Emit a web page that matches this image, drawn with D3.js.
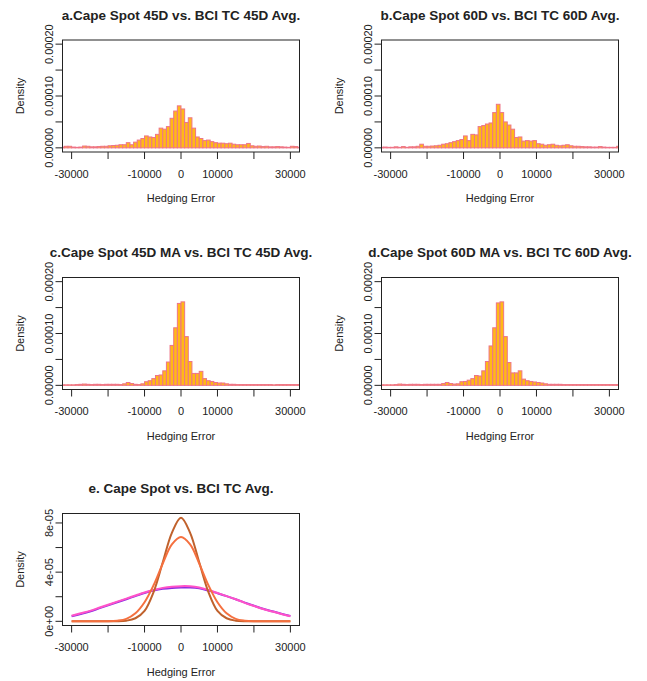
<!DOCTYPE html>
<html>
<head>
<meta charset="utf-8">
<script src="https://cdn.jsdelivr.net/npm/d3@7"></script>
<style>
  body { margin: 0; background: #fff; }
  text { font-family: "Liberation Sans", Arial, sans-serif; fill: #222; }
</style>
</head>
<body>
<svg id="chart"></svg>
<script>
// Histogram bins: left edges start at -33000, each 1000 wide
var binStart = -33000;
var binWidth = 1000;

// Density per bin, in units of 1e-5
var densA = [0.15, 0.3, 0.3, 0.15, 0.1, 0.15, 0.35, 0.3, 0.2, 0.2,
  0.25, 0.3, 0.3, 0.4, 0.45, 0.5, 0.6, 0.6, 1.0, 0.6,
  1.1, 1.5, 1.8, 2.3, 2.1, 2.0, 2.6, 3.8, 3.6, 4.1,
  5.7, 7.1, 8.1, 7.5, 4.9, 5.8, 3.8, 2.1, 1.8, 1.4,
  1.5, 1.2, 1.0, 0.9, 0.9, 0.8, 0.9, 0.7, 0.6, 0.6,
  0.6, 0.85, 0.4, 0.3, 0.35, 0.25, 0.3, 0.2, 0.2, 0.25,
  0.2, 0.15, 0.1, 0.3, 0.25, 0.1];

var densB = [0.1, 0.15, 0.1, 0.1, 0.2, 0.1, 0.25, 0.1, 0.2, 0.2,
  0.3, 0.7, 0.3, 0.3, 0.35, 0.4, 0.5, 0.7, 0.8, 1.0,
  1.2, 1.4, 1.6, 2.3, 1.4, 2.6, 2.5, 4.1, 4.3, 4.6,
  4.8, 6.8, 8.4, 6.8, 5.0, 4.4, 3.6, 2.0, 2.1, 1.3,
  1.4, 1.3, 1.4, 0.8, 0.7, 0.5, 0.6, 0.7, 0.5, 0.4,
  0.5, 0.6, 0.4, 0.3, 0.3, 0.25, 0.2, 0.2, 0.15, 0.15,
  0.25, 0.15, 0.1, 0.1, 0.1, 0.3];

var densC = [0.1, 0.1, 0.1, 0.1, 0.15, 0.2, 0.25, 0.2, 0.15, 0.2,
  0.2, 0.15, 0.2, 0.2, 0.2, 0.2, 0.15, 0.3, 0.55, 0.35,
  0.2, 0.15, 0.3, 0.7, 0.9, 1.3, 1.9, 2.0, 2.8, 4.5,
  7.7, 11.1, 15.8, 16.1, 9.4, 4.6, 2.3, 2.3, 2.7, 1.3,
  0.9, 0.75, 0.55, 0.45, 0.45, 0.3, 0.2, 0.2, 0.15, 0.15,
  0.15, 0.15, 0.15, 0.15, 0.15, 0.15, 0.15, 0.15, 0.1, 0.15,
  0.15, 0.15, 0.15, 0.15, 0.15, 0.15];

var densD = [0.1, 0.1, 0.1, 0.1, 0.15, 0.25, 0.2, 0.15, 0.2, 0.2,
  0.2, 0.15, 0.2, 0.2, 0.2, 0.2, 0.2, 0.35, 0.55, 0.35,
  0.25, 0.3, 0.7, 0.75, 1.0, 1.3, 1.9, 1.8, 2.8, 4.6,
  7.6, 11.1, 15.9, 16.1, 9.4, 4.4, 2.4, 2.4, 2.8, 1.2,
  0.9, 0.75, 0.65, 0.55, 0.45, 0.3, 0.2, 0.2, 0.2, 0.2,
  0.15, 0.15, 0.15, 0.15, 0.15, 0.15, 0.15, 0.15, 0.15, 0.15,
  0.15, 0.15, 0.15, 0.15, 0.15, 0.15];

var histTitles = ["a.Cape Spot 45D vs. BCI TC 45D Avg.",
  "b.Cape Spot 60D vs. BCI TC 60D Avg.",
  "c.Cape Spot 45D MA vs. BCI TC 45D Avg.",
  "d.Cape Spot 60D MA vs. BCI TC 60D Avg."];

// Panel e: density curves sampled along the hedging error axis (values in 1e-5)
var curveX = [-30000, -27500, -25000, -22500, -20000, -17500, -15000, -12500, -10000, -7500,
  -5000, -2500, 0, 2500, 5000, 7500, 10000, 12500, 15000, 17500,
  20000, 22500, 25000, 27500, 30000];
var curvePurple = [0.42, 0.6, 0.8, 1.05, 1.3, 1.55, 1.8, 2.05, 2.3, 2.5,
  2.64, 2.72, 2.75, 2.75, 2.68, 2.5, 2.28, 2.05, 1.8, 1.52,
  1.27, 1.02, 0.82, 0.62, 0.44];
var curvePink = [0.45, 0.65, 0.85, 1.1, 1.35, 1.6, 1.85, 2.1, 2.35, 2.55,
  2.72, 2.82, 2.86, 2.85, 2.75, 2.55, 2.3, 2.05, 1.8, 1.5,
  1.25, 1.0, 0.8, 0.6, 0.42];
var curveBrown = [0, 0, 0, 0, 0, 0, 0.05, 0.25, 0.85, 2.4,
  4.8, 7.2, 8.43, 7.2, 4.8, 2.4, 0.85, 0.25, 0.05, 0,
  0, 0, 0, 0, 0];
var curveOrange = [0, 0, 0, 0, 0, 0.05, 0.2, 0.65, 1.55, 2.95,
  4.7, 6.25, 6.85, 6.25, 4.7, 2.95, 1.55, 0.65, 0.2, 0.05,
  0, 0, 0, 0, 0];
var curveTitle = "e. Cape Spot vs. BCI TC Avg.";

// Axis ticks and labels
var xTicks = [-30000, -20000, -10000, 0, 10000, 20000, 30000];
var xTickLabels = ["-30000", "", "-10000", "0", "10000", "", "30000"];
var histYTicks = [0, 0.00005, 0.0001, 0.00015, 0.0002];
var histYLabels = ["0.00000", "", "0.00010", "", "0.00020"];
var curveYTicks = [0, 0.00002, 0.00004, 0.00006, 0.00008];
var curveYLabels = ["0e+00", "", "4e-05", "", "8e-05"];

// SVG setup
var svgWidth = 647;
var svgHeight = 681;
var plotW = 237;
var plotH = 112;

var svg = d3.select("#chart")
  .attr("width", svgWidth)
  .attr("height", svgHeight);

var xScale = d3.scaleLinear().domain([-32500, 32500]).range([0, plotW]);

// Panel positions (top-left corner of each plot box)
var panelPos = [[62.5, 40], [381.5, 40], [62.5, 277.5], [381.5, 277.5], [62.5, 513.5]];

var barFill = "#ffb916";
var barStroke = "#ee7488";

// Draw the frame, axes and labels of one panel
function drawFrame(g, yScale, yTicks, yLabels, title) {
  // x axis ticks
  g.selectAll(".xtick")
    .data(xTicks)
    .enter()
    .append("line")
    .attr("x1", function (d) { return xScale(d); })
    .attr("x2", function (d) { return xScale(d); })
    .attr("y1", plotH)
    .attr("y2", plotH + 7)
    .attr("stroke", "#222");

  g.selectAll(".xlab")
    .data(xTicks)
    .enter()
    .append("text")
    .attr("x", function (d) { return xScale(d); })
    .attr("y", plotH + 25.5)
    .attr("text-anchor", "middle")
    .style("font-size", "11px")
    .text(function (d, i) { return xTickLabels[i]; });

  // y axis ticks
  g.selectAll(".ytick")
    .data(yTicks)
    .enter()
    .append("line")
    .attr("x1", -7)
    .attr("x2", 0)
    .attr("y1", function (d) { return yScale(d); })
    .attr("y2", function (d) { return yScale(d); })
    .attr("stroke", "#222");

  g.selectAll(".ylab")
    .data(yTicks)
    .enter()
    .append("text")
    .attr("transform", function (d) {
      return "translate(-9.5," + yScale(d) + ") rotate(-90)";
    })
    .attr("text-anchor", "middle")
    .style("font-size", "11px")
    .text(function (d, i) { return yLabels[i]; });

  // box
  g.append("rect")
    .attr("width", plotW)
    .attr("height", plotH)
    .attr("fill", "none")
    .attr("stroke", "#222");

  // title and axis titles
  g.append("text")
    .attr("x", plotW / 2)
    .attr("y", -20.5)
    .attr("text-anchor", "middle")
    .style("font-size", "13.5px")
    .style("font-weight", "bold")
    .text(title);

  g.append("text")
    .attr("x", plotW / 2)
    .attr("y", plotH + 50)
    .attr("text-anchor", "middle")
    .style("font-size", "11px")
    .text("Hedging Error");

  g.append("text")
    .attr("transform", "translate(-39," + plotH / 2 + ") rotate(-90)")
    .attr("text-anchor", "middle")
    .style("font-size", "11px")
    .text("Density");
}

// Clip path shared by all panels (same box size)
svg.append("defs")
  .append("clipPath")
  .attr("id", "plotClip")
  .append("rect")
  .attr("width", plotW)
  .attr("height", plotH);

// Histograms a-d
var histData = [densA, densB, densC, densD];
var yHist = d3.scaleLinear().domain([-0.000008, 0.000208]).range([plotH, 0]);

histData.forEach(function (dens, i) {
  var g = svg.append("g")
    .attr("transform", "translate(" + panelPos[i][0] + "," + panelPos[i][1] + ")");

  g.append("g")
    .attr("clip-path", "url(#plotClip)")
    .selectAll("rect")
    .data(dens)
    .enter()
    .append("rect")
    .attr("x", function (d, k) { return xScale(binStart + k * binWidth); })
    .attr("width", xScale(binWidth) - xScale(0))
    .attr("y", function (d) { return yHist(d * 1e-5); })
    .attr("height", function (d) { return yHist(0) - yHist(d * 1e-5); })
    .attr("fill", barFill)
    .attr("stroke", barStroke)
    .attr("stroke-width", 1);

  drawFrame(g, yHist, histYTicks, histYLabels, histTitles[i]);
});

// Panel e: density curves
var yCurve = d3.scaleLinear().domain([-0.0000034, 0.0000877]).range([plotH, 0]);
var gE = svg.append("g")
  .attr("transform", "translate(" + panelPos[4][0] + "," + panelPos[4][1] + ")");

var curveLine = d3.line()
  .x(function (d, i) { return xScale(curveX[i]); })
  .y(function (d) { return yCurve(d * 1e-5); })
  .curve(d3.curveCatmullRom);

var curves = [
  { values: curvePurple, color: "#8a2be2" },
  { values: curvePink, color: "#ff52c8" },
  { values: curveBrown, color: "#c0612c" },
  { values: curveOrange, color: "#f5703f" }
];

curves.forEach(function (c) {
  gE.append("path")
    .datum(c.values)
    .attr("d", curveLine)
    .attr("fill", "none")
    .attr("stroke", c.color)
    .attr("stroke-width", 2);
});

drawFrame(gE, yCurve, curveYTicks, curveYLabels, curveTitle);
</script>
</body>
</html>
